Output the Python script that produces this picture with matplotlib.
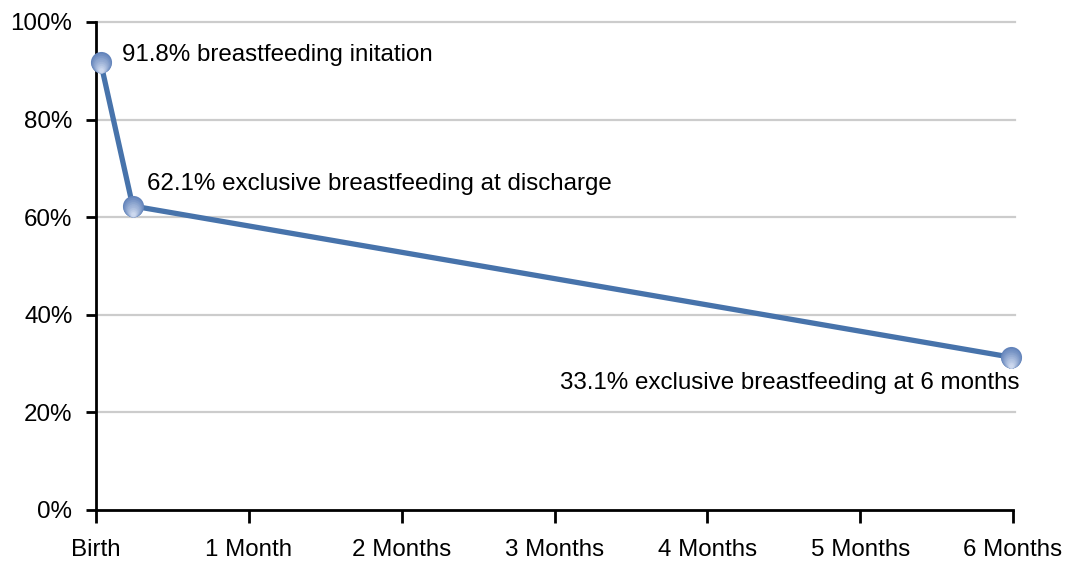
import matplotlib as mpl
mpl.use('Agg')
import matplotlib.pyplot as plt
from matplotlib.transforms import offset_copy
from matplotlib.colors import to_rgb
import numpy as np

plt.rcParams['font.family'] = ['Liberation Sans', 'DejaVu Sans']

# x positions in months, y in percent
months = [0.03, 0.24, 5.99]
rates = [91.8, 62.3, 31.3]
labels = ['91.8% breastfeeding initation',
          '62.1% exclusive breastfeeding at discharge',
          '33.1% exclusive breastfeeding at 6 months']
xtick_labels = ['Birth', '1 Month', '2 Months', '3 Months',
                '4 Months', '5 Months', '6 Months']
yticks = [0, 20, 40, 60, 80, 100]

line_col = '#4773ab'
FS = 17.4

fig = plt.figure(figsize=(10.71, 5.61), dpi=100)
ax = fig.add_axes([96 / 1071, 1 - 510 / 561, (1013 - 96) / 1071, (510 - 22) / 561])

for y in yticks[1:]:
    ax.plot([0, 6.01], [y, y], color='#cccccc', lw=1.6, zorder=1, clip_on=False)

ax.plot(months, rates, color=line_col, lw=3.8, zorder=3, solid_capstyle='round')

# shaded sphere markers: stacked circles, darker on top, lighter at bottom
R = 7.6
top = np.array(to_rgb('#6384bb'))
bot = np.array(to_rgb('#ccd8ee'))
n = 16
for i in range(n):
    f = i / (n - 1)
    r = R * (1 - 0.8 * f)
    col = top + (bot - top) * f
    tr = offset_copy(ax.transData, fig=fig, x=0, y=-(R - r), units='points')
    ax.plot(months, rates, 'o', ms=2 * r, mfc=col, mec='none', zorder=4 + i * 0.01,
            transform=tr, clip_on=False)

ax.annotate(labels[0], (months[0], rates[0]), xytext=(21, 7), textcoords='offset pixels',
            fontsize=FS, va='center', ha='left')
ax.annotate(labels[1], (months[1], rates[1]), xytext=(14, 22), textcoords='offset pixels',
            fontsize=FS, va='center', ha='left')
ax.annotate(labels[2], (months[2], rates[2]), xytext=(8, -26), textcoords='offset pixels',
            fontsize=FS, va='center', ha='right')

ax.set_xlim(0, 6)
ax.set_ylim(0, 100)
ax.set_xticks(range(7))
ax.set_xticklabels(xtick_labels, fontsize=FS)
ax.set_yticks(yticks)
ax.set_yticklabels([f'{y}%' for y in yticks], fontsize=FS)
ax.tick_params(axis='both', direction='out', width=2, color='black')
ax.tick_params(axis='x', length=9, pad=12)
ax.tick_params(axis='y', length=7, pad=10)

for s in ['top', 'right']:
    ax.spines[s].set_visible(False)
for s in ['left', 'bottom']:
    ax.spines[s].set_linewidth(2)

plt.savefig('out.png', dpi=100)
